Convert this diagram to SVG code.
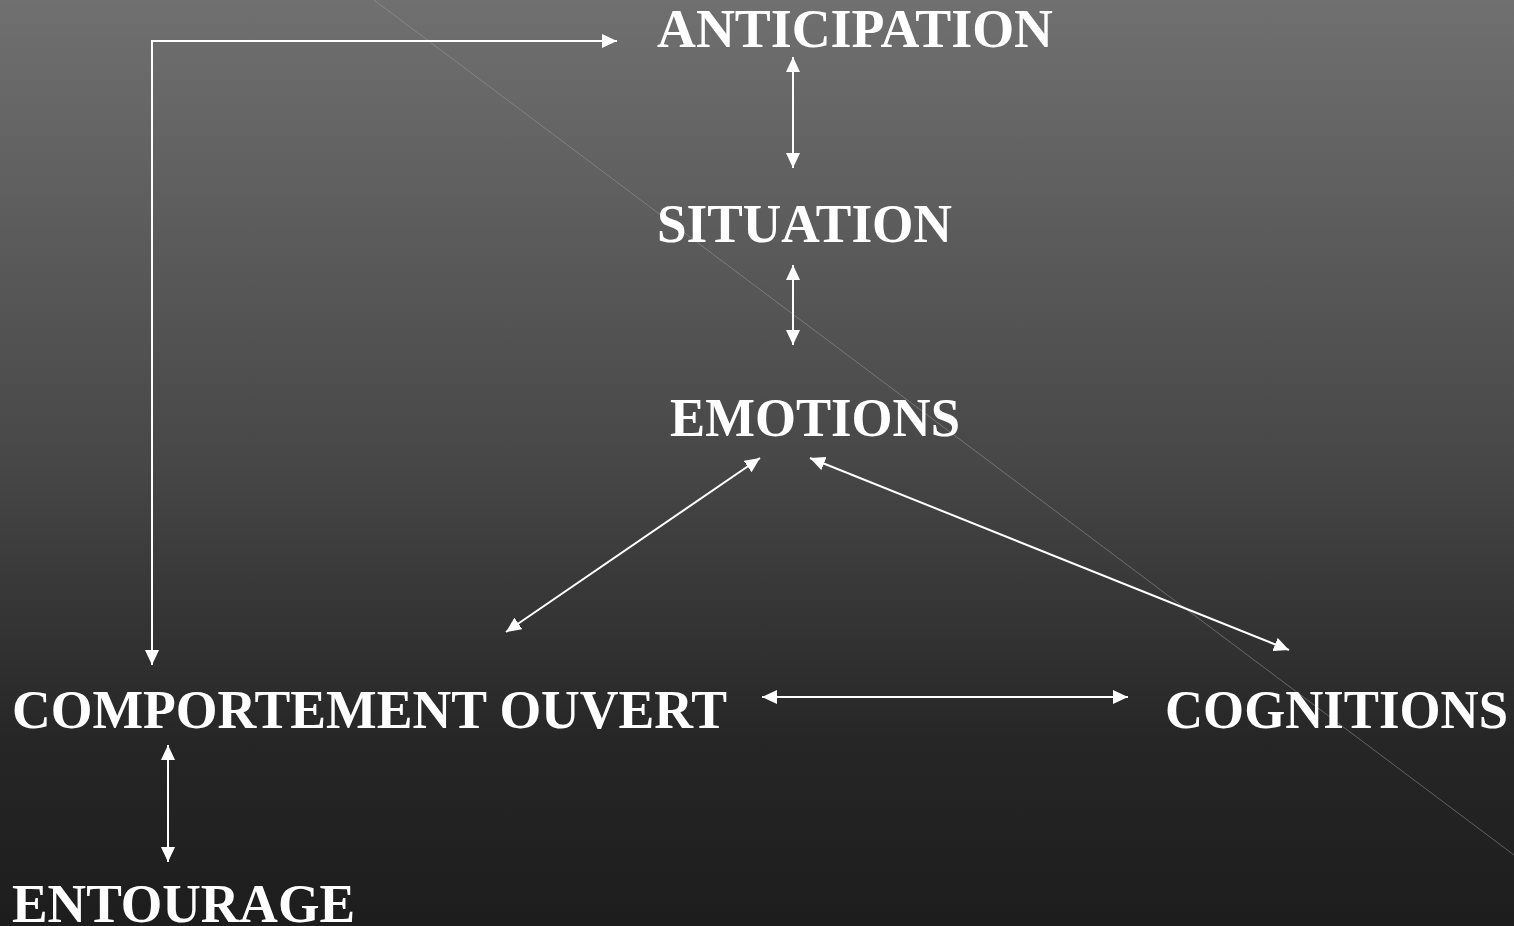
<svg xmlns="http://www.w3.org/2000/svg" width="1514" height="926" viewBox="0 0 1514 926">
<defs>
<linearGradient id="bg" x1="0" y1="0" x2="0" y2="1">
<stop offset="0" stop-color="#707070"/>
<stop offset="0.5" stop-color="#474747"/>
<stop offset="0.8" stop-color="#262626"/>
<stop offset="1" stop-color="#1d1d1d"/>
</linearGradient>
<marker id="ah" viewBox="0 0 15 14" refX="15" refY="7" markerWidth="15" markerHeight="14" markerUnits="userSpaceOnUse" orient="auto-start-reverse">
<path d="M0,0 L15,7 L0,14 Z" fill="#ffffff"/>
</marker>
<style>
.lbl{font-family:"Liberation Serif","Times New Roman",serif;font-weight:bold;font-size:55px;fill:#ffffff}
.c{fill:none;stroke:#ffffff;stroke-width:2}
</style>
</defs>
<rect x="0" y="0" width="1514" height="926" fill="url(#bg)"/>
<line x1="374" y1="0" x2="1514" y2="855" stroke="#a0a0a0" stroke-opacity="0.5" stroke-width="1"/>
<g id="connectors">
<path class="c" d="M152,665 L152,41 L617,41" marker-start="url(#ah)" marker-end="url(#ah)"/>
<line class="c" x1="793" y1="57" x2="793" y2="168" marker-start="url(#ah)" marker-end="url(#ah)"/>
<line class="c" x1="793" y1="265" x2="793" y2="345" marker-start="url(#ah)" marker-end="url(#ah)"/>
<line class="c" x1="760" y1="458" x2="506" y2="632" marker-start="url(#ah)" marker-end="url(#ah)"/>
<line class="c" x1="810" y1="458" x2="1289" y2="650" marker-start="url(#ah)" marker-end="url(#ah)"/>
<line class="c" x1="762" y1="697" x2="1128" y2="697" marker-start="url(#ah)" marker-end="url(#ah)"/>
<line class="c" x1="168" y1="745" x2="168" y2="862" marker-start="url(#ah)" marker-end="url(#ah)"/>
</g>
<g id="anticipation"><text class="lbl" x="657" y="47" textLength="396" lengthAdjust="spacingAndGlyphs">ANTICIPATION</text></g>
<g id="situation"><text class="lbl" x="657" y="242" textLength="295" lengthAdjust="spacingAndGlyphs">SITUATION</text></g>
<g id="emotions"><text class="lbl" x="670" y="436" textLength="290" lengthAdjust="spacingAndGlyphs">EMOTIONS</text></g>
<g id="comportement"><text class="lbl" x="12" y="728" textLength="715" lengthAdjust="spacingAndGlyphs">COMPORTEMENT OUVERT</text></g>
<g id="cognitions"><text class="lbl" x="1165" y="728" textLength="343" lengthAdjust="spacingAndGlyphs">COGNITIONS</text></g>
<g id="entourage"><text class="lbl" x="12" y="922" textLength="343" lengthAdjust="spacingAndGlyphs">ENTOURAGE</text></g>
</svg>
